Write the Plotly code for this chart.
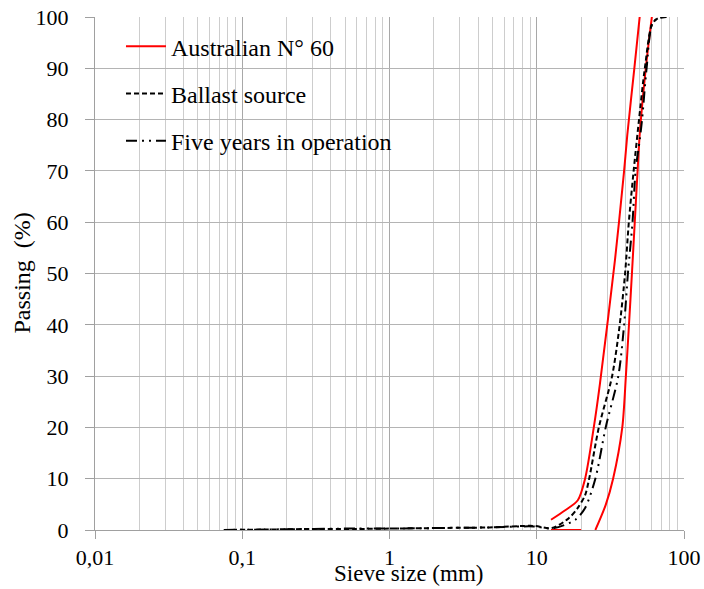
import plotly.graph_objects as go

# ---------------- data ----------------
# Australian N° 60 grading envelope (upper and lower limits)
aus_upper_x = [12.5, 15.7, 19.0, 21.3, 24.4, 26.8, 34.0, 39.2, 41.2, 46.0, 50.0]
aus_upper_y = [2.0, 3.9, 5.8, 10, 20, 28.3, 52.7, 70, 77, 90, 100]

aus_lower_x = [12.5, 20.0, None, 25.0, 29.4, 33.0, 38.1, 40.3, 42.3, 44.3, 46.3, 48.4, 50.0, 55.0, 60.5]
aus_lower_y = [0, 0, None, 0, 4.9, 10, 20, 30, 40, 50, 60, 70, 77, 90, 100]

# Ballast source
src_x = [0.075, 0.15, 0.3, 0.6, 1.18, 2.36, 4.75, 9.5, 12.7, 16.5, 19.0, 21.3, 22.7,
         26.4, 32.5, 36.6, 39.8, 42.2, 45.5, 49.5, 54.2, 60.9, 67.0, 76.2]
src_y = [0, 0.1, 0.2, 0.2, 0.3, 0.4, 0.5, 0.8, 0.4, 2.3, 4.3, 6.8, 10,
         20, 30, 40, 50, 60, 70, 80, 90, 98.7, 99.8, 100]

# Five years in operation
op_x = [0.075, 0.15, 0.3, 0.6, 1.18, 2.36, 4.75, 9.5, 12.7, 18.3, 21.3, 25.0,
        29.4, 35.8, 39.2, 41.6, 44.7, 46.9, 50.0, 51.9, 55.7, 60.9, 67.0, 76.2]
op_y = [0, 0.1, 0.2, 0.3, 0.3, 0.4, 0.5, 0.7, 0.3, 2.0, 4.3, 10,
        20, 30, 40, 50, 60, 70, 76, 80, 90, 98.7, 99.8, 100]

x_tickvals = [0.01, 0.1, 1, 10, 100]
x_ticktext = ["0,01", "0,1", "1", "10", "100"]
x_minorvals = [m * d for d in [0.01, 0.1, 1, 10] for m in range(2, 10)]

FONT = "Liberation Serif, Times New Roman, DejaVu Serif, serif"
FS_TICK = 22
FS_TEXT = 24

fig = go.Figure()

fig.add_trace(go.Scatter(
    x=aus_upper_x, y=aus_upper_y, mode="lines", name="Australian N° 60",
    line=dict(color="#ff0000", width=2, shape="spline", smoothing=0.8),
    legendgroup="a"))
fig.add_trace(go.Scatter(
    x=aus_lower_x, y=aus_lower_y, mode="lines", name="Australian N° 60",
    line=dict(color="#ff0000", width=2, shape="spline", smoothing=0.8),
    legendgroup="a", showlegend=False, connectgaps=False))
fig.add_trace(go.Scatter(
    x=src_x, y=src_y, mode="lines", name="Ballast source",
    line=dict(color="black", width=2, dash="5px,3px", shape="spline", smoothing=0.8),
    legendgroup="b"))
fig.add_trace(go.Scatter(
    x=op_x, y=op_y, mode="lines", name="Five years in operation",
    line=dict(color="black", width=2, dash="11px,5px,2px,5px,2px,5px",
              shape="spline", smoothing=0.8),
    legendgroup="c"))

fig.update_layout(
    width=704, height=589,
    margin=dict(l=95, r=20, t=17, b=59, autoexpand=False),
    paper_bgcolor="white", plot_bgcolor="white",
    font=dict(family=FONT, size=FS_TICK, color="black"),
    showlegend=True,
    legend=dict(
        x=0.0441, y=0.986, xanchor="left", yanchor="top",
        bgcolor="rgba(0,0,0,0)", borderwidth=0,
        font=dict(family=FONT, size=FS_TEXT, color="black"),
        traceorder="grouped", tracegroupgap=13, itemwidth=40,
    ),
    shapes=[
        # white legend background hiding the gridlines behind the key
        dict(type="rect", xref="paper", yref="paper",
             x0=0.0085, x1=0.535, y0=0.7115, y1=0.993,
             fillcolor="white", line=dict(width=0), layer="between"),
    ],
    xaxis=dict(
        type="log", range=[-2, 2], automargin=False,
        tickmode="array", tickvals=x_tickvals, ticktext=x_ticktext,
        ticks="outside", ticklen=8, tickcolor="#a0a0a0", tickwidth=1,
        showgrid=True, gridcolor="#a8a8a8", gridwidth=1,
        showline=True, linecolor="#a0a0a0", linewidth=1,
        zeroline=False,
        minor=dict(tickmode="array", tickvals=x_minorvals, showgrid=True,
                   gridcolor="#cdcdcd", gridwidth=1, ticks=""),
        tickfont=dict(family=FONT, size=FS_TICK, color="black"),
    ),
    yaxis=dict(
        range=[0, 100], tickmode="linear", tick0=0, dtick=10, automargin=False,
        ticks="outside", ticklen=9, tickcolor="#a0a0a0", tickwidth=1,
        showgrid=True, gridcolor="#b4b4b4", gridwidth=1,
        showline=True, linecolor="#a0a0a0", linewidth=1,
        zeroline=False, ticklabelstandoff=12,
        tickfont=dict(family=FONT, size=FS_TICK, color="black"),
    ),
    annotations=[
        dict(text="Passing  (%)", xref="paper", yref="paper",
             x=-0.1256, y=0.5, xanchor="center", yanchor="middle",
             textangle=-90, showarrow=False,
             font=dict(family=FONT, size=FS_TEXT, color="black")),
        dict(text="Sieve size (mm)", xref="paper", yref="paper",
             x=0.533, y=-0.0857, xanchor="center", yanchor="middle",
             showarrow=False,
             font=dict(family=FONT, size=23, color="black")),
    ],
)

fig.write_html("out.html")
